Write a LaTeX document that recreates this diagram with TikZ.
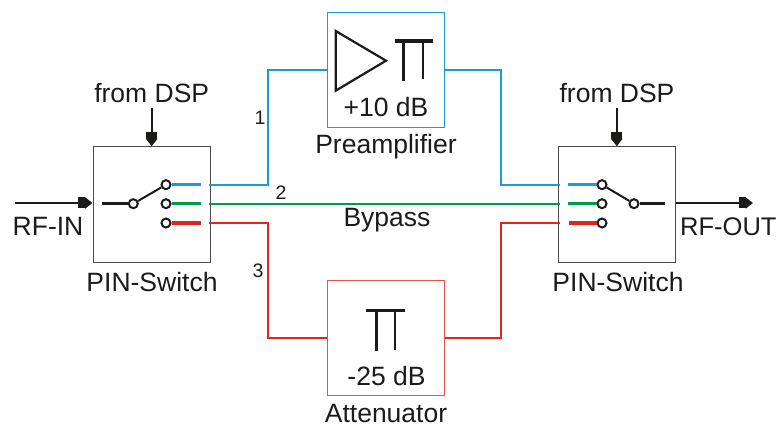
\documentclass[tikz,border=0pt]{standalone}
\usepackage{fontspec}
\setmainfont{Liberation Sans}
\usetikzlibrary{arrows.meta}
\definecolor{cblue}{HTML}{1B9BD7}
\definecolor{cgreen}{HTML}{009A49}
\definecolor{cred}{HTML}{E1251B}
\definecolor{ink}{HTML}{1D1A1A}
\definecolor{boxgray}{HTML}{4A4A4A}
\definecolor{redbox}{HTML}{E8504A}
\tikzset{
  switchbox/.style={draw=boxgray,line width=0.9pt,fill=white,minimum width=117pt,minimum height=116pt,inner sep=0pt,anchor=center},
  gainbox/.style={line width=1pt,fill=white,minimum width=116.7pt,minimum height=115pt,inner sep=0pt,anchor=center},
  lab/.style={font=\fontsize{26.5}{27}\selectfont,text=ink,inner sep=0pt,anchor=base},
  num/.style={font=\fontsize{19.5}{20}\selectfont,text=ink,inner sep=0pt,anchor=base},
  wire/.style={line width=2.3pt,line join=miter},
  stub/.style={line width=3.6pt},
  sig/.style={ink,line width=2pt,-{Rectangle[length=7pt,width=11pt,sep=0pt]Triangle[length=7.5pt,width=11pt]}},
  contact/.style={circle,draw=ink,line width=2pt,fill=white,minimum size=9pt,inner sep=0pt},
  lever/.style={ink,line width=2pt},
  heavy/.style={ink,line width=3.5pt},
  thinleg/.style={ink,line width=1.7pt},
}
\begin{document}
\begin{tikzpicture}[x=1pt,y=-1pt]
\useasboundingbox (0,0) rectangle (778,427);
% boxes
\node[switchbox] (sw1) at (151.7,204.7) {};
\node[switchbox] (sw2) at (616.8,204.7) {};
\node[gainbox,draw=cblue] (pre) at (385.7,69.7) {};
\node[gainbox,draw=redbox] (att) at (385.7,338.2) {};
% port coordinates
\coordinate (l1) at (209,184.7);
\coordinate (l2) at (209,203.7);
\coordinate (l3) at (209,223);
\coordinate (r1) at (560,184.7);
\coordinate (r2) at (560,203.7);
\coordinate (r3) at (560,223);
\coordinate (m1) at (268.3,69.7);
\coordinate (m2) at (500.7,69.7);
\coordinate (m3) at (268.3,338.2);
\coordinate (m4) at (500.7,338.2);
% connectors
\draw[wire,cblue] (l1) -| (m1) -- (pre.west);
\draw[wire,cblue] (pre.east) -- (m2) |- (r1);
\draw[wire,cgreen,line width=2pt] (l2) -- (r2);
\draw[wire,cred] (l3) -| (m3) -- (att.west);
\draw[wire,cred] (att.east) -- (m4) |- (r3);
% left switch
\coordinate (a0) at (102.3,203.7);
\node[contact] (ap) at (133.3,203.7) {};
\node[contact] (a1) at (166,184.7) {};
\node[contact] (a2) at (166,203.7) {};
\node[contact] (a3) at (166,223) {};
\coordinate (e1) at (201,184.7);
\coordinate (e2) at (201,203.7);
\coordinate (e3) at (201,223);
\draw[heavy,line width=2.6pt] (a0) -- (ap);
\draw[lever] (ap) -- (a1);
\draw[stub,cblue] (a1) -- (e1);
\draw[stub,cgreen] (a2) -- (e2);
\draw[stub,cred] (a3) -- (e3);
% right switch
\coordinate (b0) at (665,203.7);
\node[contact] (bp) at (634,203.7) {};
\node[contact] (b1) at (602,184.7) {};
\node[contact] (b2) at (602,203.7) {};
\node[contact] (b3) at (602,223) {};
\coordinate (f1) at (568,184.7);
\coordinate (f2) at (568,203.7);
\coordinate (f3) at (569,223);
\draw[heavy] (bp) -- (b0);
\draw[lever] (bp) -- (b1);
\draw[stub,cblue] (f1) -- (b1);
\draw[stub,cgreen] (f2) -- (b2);
\draw[stub,cred] (f3) -- (b3);
% signal arrows
\coordinate (inS) at (15,203);
\coordinate (inE) at (92.5,203);
\coordinate (outS) at (675.7,203);
\coordinate (outE) at (753,203);
\coordinate (d1) at (151.7,108);
\coordinate (d2) at (616.8,108);
\draw[sig] (inS) -- (inE);
\draw[sig] (outS) -- (outE);
\draw[sig] (d1) -- (sw1.north);
\draw[sig] (d2) -- (sw2.north);
% amplifier
\coordinate (t1) at (335.7,31);
\coordinate (t2) at (335.7,90.7);
\coordinate (t3) at (386,60.7);
\draw[ink,line width=2.2pt,miter limit=10] (t1) -- (t2) -- (t3) -- cycle;
% pi sections
\coordinate (p1) at (395,41.2);
\coordinate (p2) at (433,41.2);
\coordinate (p3) at (403.7,41.2);
\coordinate (p4) at (403.7,80.7);
\coordinate (p5) at (423.3,41.2);
\coordinate (p6) at (423.3,79);
\draw[heavy] (p1) -- (p2);
\draw[heavy] (p3) -- (p4);
\draw[thinleg] (p5) -- (p6);
\coordinate (q1) at (366,310.3);
\coordinate (q2) at (405,310.3);
\coordinate (q3) at (376.7,310.3);
\coordinate (q4) at (376.7,350.7);
\coordinate (q5) at (395.3,310.3);
\coordinate (q6) at (395.3,349.5);
\draw[heavy] (q1) -- (q2);
\draw[heavy] (q3) -- (q4);
\draw[thinleg] (q5) -- (q6);
% labels
\node[lab] (t1a) at (151.7,102.3) {from DSP};
\node[lab] (t2a) at (617,102.3) {from DSP};
\node[lab,anchor=base west] (t3a) at (12.5,236) {RF-IN};
\node[lab,anchor=base west,font=\fontsize{25.5}{26}\selectfont] (t4a) at (680,236) {RF-OUT};
\node[lab] (t5a) at (152,291.7) {PIN-Switch};
\node[lab] (t6a) at (618,291.7) {PIN-Switch};
\node[lab] (t7a) at (386,116.7) {+10 dB};
\node[lab] (t8a) at (386,153.3) {Preamplifier};
\node[lab] (t9a) at (387,227) {Bypass};
\node[lab] (t10a) at (386.5,385.7) {-25 dB};
\node[lab] (t11a) at (386,422.5) {Attenuator};
\node[num] (n1) at (260,125) {1};
\node[num] (n2) at (281,200) {2};
\node[num] (n3) at (258,277) {3};
\end{tikzpicture}
\end{document}
